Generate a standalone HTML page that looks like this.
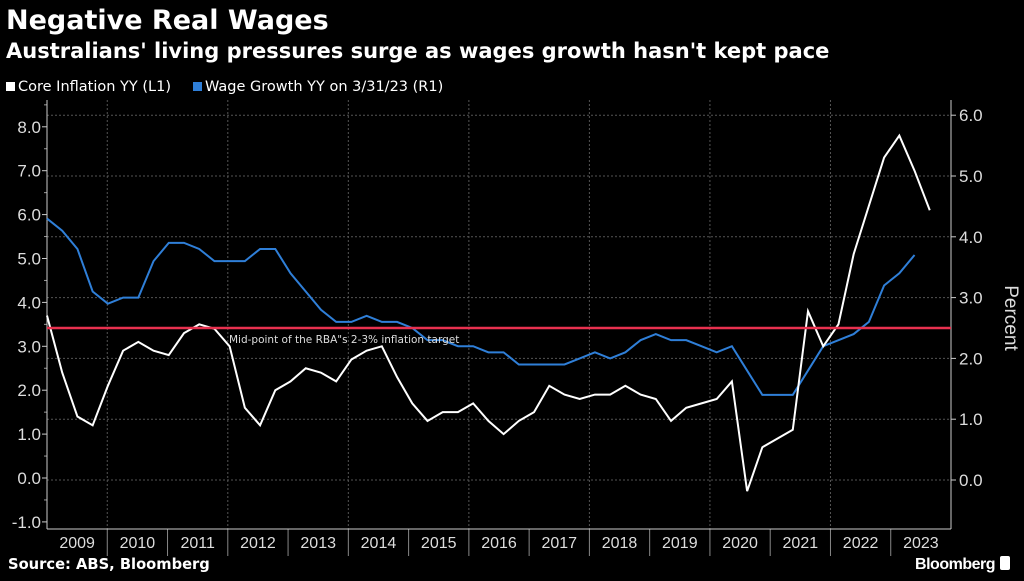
<!DOCTYPE html>
<html><head><meta charset="utf-8"><style>
body{margin:0;background:#000;width:1024px;height:576px;overflow:hidden;font-family:"Liberation Sans","DejaVu Sans",sans-serif;color:#fff}
.dv{font-family:"DejaVu Sans","Liberation Sans",sans-serif}
</style></head><body>
<svg id="c" width="1024" height="576" xmlns="http://www.w3.org/2000/svg">
<text class="dv" x="6" y="29" font-size="27" font-weight="bold" fill="#fff">Negative Real Wages</text>
<text class="dv" x="6" y="58" font-size="21" font-weight="bold" fill="#fff">Australians' living pressures surge as wages growth hasn't kept pace</text>
<g>
<rect x="6" y="82" width="9" height="9" fill="#fff"/>
<text class="dv" x="18" y="91" font-size="14.5" fill="#fff">Core Inflation YY (L1)</text>
<rect x="193" y="82" width="9" height="9" fill="#2f7fd8"/>
<text class="dv" x="205" y="91" font-size="14.5" fill="#fff">Wage Growth YY on 3/31/23 (R1)</text>
</g>
<g id="grid"></g>
<g id="axes"></g>
<g id="series"></g>
<text class="dv" x="8" y="569" font-size="14.7" font-weight="bold" fill="#fff">Source: ABS, Bloomberg</text>
<text x="995" y="569" font-size="16" font-weight="bold" fill="#fff" text-anchor="end" letter-spacing="-0.5">Bloomberg</text>
<rect x="1000" y="556" width="10" height="14" rx="2" fill="#fff"/>
</svg>
<script>
const years=[2009,2010,2011,2012,2013,2014,2015,2016,2017,2018,2019,2020,2021,2022,2023];
const leftTicks=[-1,0,1,2,3,4,5,6,7,8];
const rightTicks=[0,1,2,3,4,5,6];
const coreInflation=[3.7,2.4,1.4,1.2,2.1,2.9,3.1,2.9,2.8,3.3,3.5,3.4,3.0,1.6,1.2,2.0,2.2,2.5,2.4,2.2,2.7,2.9,3.0,2.3,1.7,1.3,1.5,1.5,1.7,1.3,1.0,1.3,1.5,2.1,1.9,1.8,1.9,1.9,2.1,1.9,1.8,1.3,1.6,1.7,1.8,2.2,-0.3,0.7,0.9,1.1,3.8,3.0,3.5,5.1,6.2,7.3,7.8,7.0,6.1];
const wageGrowth=[4.3,4.1,3.8,3.1,2.9,3.0,3.0,3.6,3.9,3.9,3.8,3.6,3.6,3.6,3.8,3.8,3.4,3.1,2.8,2.6,2.6,2.7,2.6,2.6,2.5,2.3,2.3,2.2,2.2,2.1,2.1,1.9,1.9,1.9,1.9,2.0,2.1,2.0,2.1,2.3,2.4,2.3,2.3,2.2,2.1,2.2,1.8,1.4,1.4,1.4,1.8,2.2,2.3,2.4,2.6,3.2,3.4,3.7];
const targetMid=[2.5];
const NS='http://www.w3.org/2000/svg';
const X0=47,X1=951,YB=529,QW=15.22,YW=(X1-X0)/15;
const xq=i=>X0+i*QW;
const yL=v=>478-43.9*v;
const yR=v=>480-60.8*v;
function mk(tag,at,parent){const e=document.createElementNS(NS,tag);for(const k in at)e.setAttribute(k,at[k]);parent.appendChild(e);return e;}
const grid=document.getElementById('grid'),axes=document.getElementById('axes'),ser=document.getElementById('series');
rightTicks.forEach(t=>{
 const g=mk('line',{x1:X0,x2:X1,y1:yR(t),y2:yR(t),stroke:'#555','stroke-dasharray':'2,2','stroke-width':1},grid);
 
 
 const tk=mk('line',{x1:X1,x2:X1+5,y1:yR(t),y2:yR(t),stroke:'#ccc'},axes);
 
 
 const tx=mk('text',{x:X1+8,y:yR(t)+6,'font-size':17,fill:'#ddd'},axes);tx.textContent=t.toFixed(1);
 
 
});
years.forEach((y,i)=>{
 const xs=X0+i*YW;
 if(i%2==1){const v=mk('line',{x1:xs,x2:xs,y1:100,y2:YB,stroke:'#555','stroke-dasharray':'2,2'},grid);
  
  }
 if(i>0){const s=mk('line',{x1:xs,x2:xs,y1:YB,y2:556,stroke:'#888'},axes);
  
  }
 const t=mk('text',{x:xs+YW/2,y:548,'font-size':16,fill:'#ddd','text-anchor':'middle'},axes);t.textContent=y;
 
 
});
leftTicks.forEach(t=>{
 const tk=mk('line',{x1:X0-5,x2:X0,y1:yL(t),y2:yL(t),stroke:'#ccc'},axes);
 
 
 const m=mk('line',{x1:X0-3,x2:X0,y1:yL(t+0.5),y2:yL(t+0.5),stroke:'#999'},axes);
 
 
 const tx=mk('text',{x:X0-6,y:yL(t)+6,'font-size':17,fill:'#ddd','text-anchor':'end'},axes);tx.textContent=t.toFixed(1);
 
 
});
const la=mk('line',{x1:X0,x2:X0,y1:100,y2:YB,stroke:'#ccc'},axes);


const ra=mk('line',{x1:X1,x2:X1,y1:100,y2:YB,stroke:'#ccc'},axes);


const ba=mk('line',{x1:X0,x2:X1,y1:YB,y2:YB,stroke:'#ccc'},axes);


const pt=mk('text',{x:1005,y:318,'font-size':19,fill:'#ddd','text-anchor':'middle',transform:'rotate(90 1005 318)'},axes);pt.textContent='Percent';


const wl=mk('polyline',{points:wageGrowth.map((v,i)=>xq(i)+','+yR(v)).join(' '),fill:'none',stroke:'#2f7fd8','stroke-width':2},ser);


const cl=mk('polyline',{points:coreInflation.map((v,i)=>xq(i)+','+yL(v)).join(' '),fill:'none',stroke:'#fff','stroke-width':2},ser);


const rl=mk('line',{x1:X0,x2:X1,y1:yR(targetMid[0]),y2:yR(targetMid[0]),stroke:'#e8314f','stroke-width':2.5},ser);


const rt=mk('text',{x:229,y:yR(targetMid[0])+15,'font-size':10.5,fill:'#ddd','font-family':'DejaVu Sans, sans-serif'},ser);rt.textContent='Mid-point of the RBA"s 2-3% inflation target';


</script>
</body></html>
